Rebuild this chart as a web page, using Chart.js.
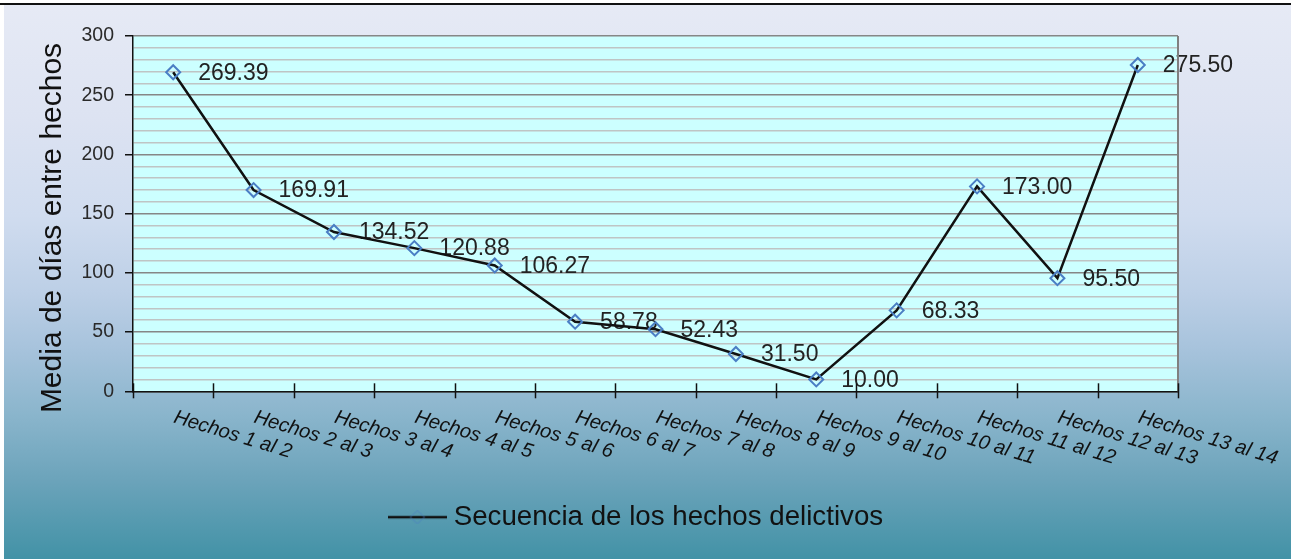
<!DOCTYPE html>
<html>
<head>
<meta charset="utf-8">
<script src="https://cdn.jsdelivr.net/npm/chart.js@4"></script>
<style>
    body { margin: 0; background: #ffffff; }
    #topline { position: absolute; left: 0; top: 3px; width: 1291px; height: 2px; background: #111; }
    #wrap { position: absolute; left: 4px; top: 5px; width: 1287px; height: 554px; }
</style>
</head>
<body>
<div id="topline"></div>
<div id="wrap"><canvas id="secuenciaChart"></canvas></div>
<script>
// --- datos ---
const categories = ['Hechos 1 al 2', 'Hechos 2 al 3', 'Hechos 3 al 4', 'Hechos 4 al 5', 'Hechos 5 al 6', 'Hechos 6 al 7',
    'Hechos 7 al 8', 'Hechos 8 al 9', 'Hechos 9 al 10', 'Hechos 10 al 11', 'Hechos 11 al 12', 'Hechos 12 al 13', 'Hechos 13 al 14'];
const mediaDias = [269.39, 169.91, 134.52, 120.88, 106.27, 58.78, 52.43, 31.50, 10.00, 68.33, 173.00, 95.50, 275.50];
const seriesLabel = 'Secuencia de los hechos delictivos';
const yTitle = 'Media de días entre hechos';
const yMin = 0, yMax = 300, yStep = 10, yLabelEvery = 50;

const FONT = '"Liberation Sans", Arial, sans-serif';

// símbolo de la leyenda: línea con rombo tenue
function legendSymbol() {
    const c = document.createElement('canvas');
    c.width = 59; c.height = 14;
    const g = c.getContext('2d');
    g.strokeStyle = '#111';
    g.lineWidth = 2.5;
    g.beginPath(); g.moveTo(0, 7); g.lineTo(59, 7); g.stroke();
    g.strokeStyle = 'rgba(74,126,196,0.35)';
    g.lineWidth = 1.5;
    g.beginPath(); g.moveTo(22.5, 7); g.lineTo(29.5, 0.5); g.lineTo(36.5, 7); g.lineTo(29.5, 13.5); g.closePath(); g.stroke();
    return c;
}

// fondo degradado, área de trazado, etiquetas y título del eje
const backgroundPlugin = {
    id: 'fondo',
    beforeDraw(chart) {
        const { ctx, width, height, chartArea } = chart;
        const g = ctx.createLinearGradient(0, 0, 0, height);
        g.addColorStop(0, '#e6eaf5');
        g.addColorStop(0.2, '#dde3f2');
        g.addColorStop(0.38, '#d0dcef');
        g.addColorStop(0.52, '#bccfe6');
        g.addColorStop(0.62, '#a7c3dc');
        g.addColorStop(0.74, '#8ab5cc');
        g.addColorStop(0.86, '#6ba3ba');
        g.addColorStop(1, '#4292a6');
        ctx.save();
        ctx.fillStyle = g;
        ctx.fillRect(0, 0, width, height);
        ctx.fillStyle = '#ccffff';
        ctx.fillRect(chartArea.left, chartArea.top, chartArea.right - chartArea.left, chartArea.bottom - chartArea.top);
        ctx.restore();
    },
    beforeDatasetsDraw(chart) {
        // etiquetas de datos (debajo de la línea, como en el original)
        const { ctx } = chart;
        const meta = chart.getDatasetMeta(0);
        ctx.save();
        ctx.font = '23px ' + FONT;
        ctx.fillStyle = '#222';
        ctx.textAlign = 'left';
        ctx.textBaseline = 'middle';
        meta.data.forEach((pt, i) => {
            ctx.fillText(mediaDias[i].toFixed(2), pt.x + 25, pt.y + 1);
        });
        ctx.restore();
    },
    afterDraw(chart) {
        const { ctx, chartArea, scales } = chart;
        const x = scales.x;
        ctx.save();
        // borde derecho gris
        ctx.strokeStyle = '#808080';
        ctx.lineWidth = 2;
        ctx.beginPath();
        ctx.moveTo(chartArea.right, chartArea.top);
        ctx.lineTo(chartArea.right, chartArea.bottom);
        ctx.stroke();
        // marcas del eje X entre categorías (cruzan el eje)
        const half = (x.getPixelForValue(1) - x.getPixelForValue(0)) / 2;
        ctx.strokeStyle = '#111';
        ctx.lineWidth = 1.5;
        for (let i = 0; i <= categories.length; i++) {
            const px = Math.round(x.getPixelForValue(i) - half) + 0.5;
            ctx.beginPath();
            ctx.moveTo(px, chartArea.bottom - 8);
            ctx.lineTo(px, chartArea.bottom + 7);
            ctx.stroke();
        }
        // etiquetas de categoría giradas hacia abajo
        ctx.font = 'italic 20px ' + FONT;
        ctx.fillStyle = '#111';
        ctx.textAlign = 'left';
        ctx.textBaseline = 'top';
        categories.forEach((lab, i) => {
            ctx.save();
            ctx.translate(x.getPixelForValue(i) + 4, chartArea.bottom + 16);
            ctx.rotate(17 * Math.PI / 180);
            ctx.fillText(lab, 0, 0);
            ctx.restore();
        });
        // título del eje Y
        ctx.save();
        ctx.font = '30px ' + FONT;
        ctx.fillStyle = '#111';
        ctx.textAlign = 'center';
        ctx.textBaseline = 'middle';
        ctx.translate(49, 223);
        ctx.rotate(-Math.PI / 2);
        ctx.fillText(yTitle, 0, 0);
        ctx.restore();
        ctx.restore();
    }
};

const ctx = document.getElementById('secuenciaChart').getContext('2d');
new Chart(ctx, {
    type: 'line',
    data: {
        labels: categories,
        datasets: [{
            label: seriesLabel,
            data: mediaDias,
            borderColor: '#111111',
            borderWidth: 2.5,
            tension: 0,
            fill: false,
            pointStyle: 'rectRot',
            pointRadius: 7,
            pointHoverRadius: 7,
            pointBorderWidth: 2,
            pointBorderColor: '#4a7ec4',
            pointBackgroundColor: 'rgba(0,0,0,0)'
        }]
    },
    options: {
        responsive: true,
        maintainAspectRatio: false,
        animation: false,
        layout: { padding: { left: 0, top: 31, right: 17, bottom: 18 } },
        plugins: {
            tooltip: { enabled: false },
            legend: {
                position: 'bottom',
                labels: {
                    usePointStyle: true,
                    pointStyleWidth: 45,
                    boxHeight: 2,
                    color: '#111',
                    padding: 10,
                    font: { size: 27.7, family: FONT },
                    generateLabels: chart => [{
                        text: seriesLabel,
                        pointStyle: legendSymbol(),
                        strokeStyle: '#111',
                        fillStyle: '#111',
                        lineWidth: 2.5,
                        fontColor: '#111',
                        datasetIndex: 0
                    }]
                }
            }
        },
        scales: {
            x: {
                type: 'category',
                offset: true,
                afterFit: s => { s.height = 102; },
                grid: { display: false },
                border: { display: true, color: '#111', width: 1.5 },
                ticks: { display: false }
            },
            y: {
                min: yMin,
                max: yMax,
                afterFit: s => { s.width = 129; },
                ticks: {
                    stepSize: yStep,
                    autoSkip: false,
                    padding: 11,
                    color: '#2a2a2a',
                    font: { size: 19.5, family: FONT },
                    callback: v => (v % yLabelEvery === 0 ? String(v) : '')
                },
                grid: {
                    lineWidth: 1.5,
                    tickLength: 8,
                    color: c => (c.tick && c.tick.value % yLabelEvery === 0 ? '#868686' : '#bfc4c4'),
                    tickColor: c => (c.tick && c.tick.value % yLabelEvery === 0 ? '#111' : 'rgba(0,0,0,0)')
                },
                border: { display: true, color: '#111', width: 1.5 }
            },
            // eje vacío a la derecha solo para reservar el margen
            yMargen: {
                position: 'right',
                display: true,
                afterFit: s => { s.width = 96; },
                grid: { display: false, drawTicks: false },
                border: { display: false },
                ticks: { display: false }
            }
        }
    },
    plugins: [backgroundPlugin]
});
</script>
</body>
</html>
